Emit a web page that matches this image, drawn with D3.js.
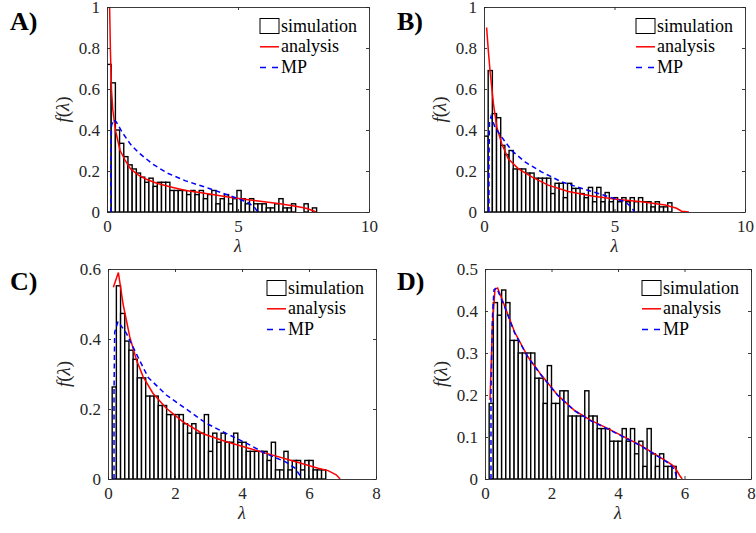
<!DOCTYPE html>
<html>
<head>
<meta charset="utf-8">
<script src="https://cdn.jsdelivr.net/npm/d3@7"></script>
<style>
body { margin: 0; background: #fff; }
svg { display: block; }
</style>
</head>
<body>
<svg id="fig" width="756" height="533"></svg>
<script>
// histogram heights f(lambda), one value per bin starting at lambda = 0
var binWidthA = 0.16;
var simA = [0.72,0.63,0.40,0.335,0.27,0.23,0.21,0.19,0.17,0.145,0.165,0.125,0.145,0.145,0.145,
            0.105,0.105,0.105,0.105,0.085,0.105,0.085,0.105,0.065,0.085,0.105,0.04,0.065,0.085,0.04,
            0.065,0.105,0.065,0.04,0.065,0.04,0.04,0.04,0.02,0.02,0.04,0.065,0.02,0.02,0.04,
            0,0,0.04,0,0.02];
var anaA = [[0.08,1.3],[0.1,1.0],[0.13,0.79],[0.17,0.6],[0.22,0.5],[0.32,0.4],[0.5,0.3],[0.7,0.25],
            [0.9,0.21],[1.2,0.18],[1.5,0.16],[1.9,0.14],[2.4,0.123],[3.0,0.105],[3.6,0.094],[4.2,0.082],
            [4.8,0.07],[5.4,0.06],[6.0,0.05],[6.6,0.04],[7.2,0.028],[7.6,0.018],[7.9,0.005],[7.95,0]];
var mpA = [[0.15,0],[0.15,0.25],[0.17,0.42],[0.24,0.45],[0.35,0.44],[0.6,0.385],[0.9,0.33],[1.2,0.29],
           [1.75,0.233],[2.3,0.19],[3.0,0.152],[3.9,0.115],[4.5,0.088],[5.0,0.065],[5.4,0.045],
           [5.65,0.02],[5.75,0]];

var binWidthB = 0.16;
var simB = [0.37,0.69,0.48,0.46,0.325,0.28,0.30,0.21,0.21,0.21,0.19,0.19,0.165,0.165,0.165,0.165,
            0.09,0.14,0.14,0.07,0.14,0.115,0.115,0.09,0.07,0.12,0.05,0.12,0.05,0.095,0.05,0.07,
            0.05,0.07,0.05,0.07,0.05,0.07,0.05,0.05,0.025,0.05,0.025,0.025,0.045];
var anaB = [[0.1,0.9],[0.17,0.78],[0.23,0.69],[0.36,0.53],[0.49,0.415],[0.68,0.333],[0.93,0.26],
            [1.31,0.212],[1.83,0.171],[2.46,0.131],[3.23,0.1],[4.13,0.078],[5.15,0.061],[6.04,0.05],
            [6.94,0.034],[7.38,0.018],[7.57,0.004],[7.85,0]];
var mpB = [[0.19,0],[0.19,0.25],[0.21,0.44],[0.27,0.466],[0.42,0.414],[0.68,0.365],[1.06,0.30],
           [1.57,0.244],[2.2,0.196],[2.97,0.147],[3.87,0.11],[4.76,0.075],[5.4,0.05],[5.65,0.025],[5.76,0]];

var binWidthC = 0.125;
var simC = [0,0.263,0.552,0.473,0.394,0.368,0.342,0.289,0.289,0.237,0.237,0.237,0.21,0.21,0.184,
            0.184,0.184,0.184,0.158,0.131,0.158,0.131,0.131,0.184,0.079,0.131,0.105,0.131,0.105,0.105,
            0.131,0.105,0.105,0.079,0.079,0.079,0.079,0.079,0.053,0.105,0.026,0.026,0.079,0.026,0.053,
            0.053,0.026,0.053,0.053,0.026,0.026,0.026];
var anaC = [[0.16,0.548],[0.31,0.59],[0.45,0.5],[0.65,0.406],[0.85,0.34],[1.05,0.292],[1.34,0.245],
            [1.74,0.202],[2.23,0.164],[2.82,0.13],[3.51,0.107],[4.2,0.088],[4.89,0.069],[5.58,0.05],
            [6.27,0.031],[6.57,0.024],[6.81,0.012],[6.93,0]];
var mpC = [[0.18,0],[0.18,0.25],[0.2,0.42],[0.3,0.45],[0.55,0.416],[0.85,0.357],[1.2,0.29],[1.74,0.24],
           [2.23,0.207],[2.92,0.16],[3.51,0.131],[4.1,0.104],[4.7,0.073],[5.3,0.049],[5.58,0.031],
           [5.72,0.012],[5.76,0]];

var binWidthD = 0.125;
var simD = [0,0.18,0.42,0.39,0.45,0.42,0.33,0.33,0.30,0.30,0.30,0.30,0.24,0.24,0.18,0.27,0.18,0.18,
            0.21,0.21,0.15,0.15,0.15,0.15,0.21,0.15,0.15,0.12,0.12,0.12,0.09,0.09,0.09,0.12,0.09,0.12,
            0.06,0.09,0.03,0.12,0.06,0.03,0.06,0.03,0.03,0.03];
var anaD = [[0.15,0.188],[0.22,0.36],[0.3,0.452],[0.38,0.455],[0.6,0.41],[0.89,0.35],[1.29,0.291],
            [1.69,0.248],[2.18,0.2],[2.68,0.164],[3.17,0.14],[3.67,0.121],[4.17,0.101],[4.66,0.081],
            [5.16,0.057],[5.56,0.037],[5.7,0.029],[5.85,0.009],[5.93,0]];
var mpD = [[0.18,0],[0.18,0.2],[0.22,0.38],[0.27,0.45],[0.35,0.455],[0.6,0.408],[0.89,0.348],[1.29,0.29],
           [1.69,0.247],[2.18,0.2],[2.68,0.163],[3.17,0.139],[3.67,0.12],[4.17,0.1],[4.66,0.08],
           [5.16,0.056],[5.56,0.036],[5.7,0.022],[5.78,0]];

var legendLabels = ["simulation", "analysis", "MP"];

var panels = [
  {tag:"A)", tx:10, ty:30, left:107, right:369, top:7, bottom:212, xMax:10, xTicks:[0,5,10],
   yMax:1, yTicks:[0,0.2,0.4,0.6,0.8,1], bw:binWidthA, sim:simA, ana:anaA, mp:mpA},
  {tag:"B)", tx:397, ty:30, left:484, right:745, top:7, bottom:212, xMax:10, xTicks:[0,5,10],
   yMax:1, yTicks:[0,0.2,0.4,0.6,0.8,1], bw:binWidthB, sim:simB, ana:anaB, mp:mpB},
  {tag:"C)", tx:10, ty:290, left:108, right:376, top:269, bottom:479, xMax:8, xTicks:[0,2,4,6,8],
   yMax:0.6, yTicks:[0,0.2,0.4,0.6], bw:binWidthC, sim:simC, ana:anaC, mp:mpC},
  {tag:"D)", tx:397, ty:290, left:485, right:751, top:269, bottom:479, xMax:8, xTicks:[0,2,4,6,8],
   yMax:0.5, yTicks:[0,0.1,0.2,0.3,0.4,0.5], bw:binWidthD, sim:simD, ana:anaD, mp:mpD}
];

var SERIF = "'Liberation Serif', 'Times New Roman', Times, 'DejaVu Serif', serif";

var svg = d3.select("#fig").style("font-family", SERIF);
var defs = svg.append("defs");
var fmt = d3.format("~g");

panels.forEach(function(p, k) {
  var x = d3.scaleLinear().domain([0, p.xMax]).range([p.left, p.right]);
  var y = d3.scaleLinear().domain([0, p.yMax]).range([p.bottom, p.top]);
  var g = svg.append("g").attr("class", "panel");

  defs.append("clipPath").attr("id", "clip" + k)
    .append("rect")
    .attr("x", p.left).attr("y", p.top)
    .attr("width", p.right - p.left).attr("height", p.bottom - p.top);

  var plot = g.append("g").attr("clip-path", "url(#clip" + k + ")");

  var bins = p.sim.map(function(v, i) { return {x0: i * p.bw, x1: (i + 1) * p.bw, v: v}; })
    .filter(function(d) { return d.v > 0; });

  plot.selectAll("rect.bar")
    .data(bins)
    .enter().append("rect")
    .attr("class", "bar")
    .attr("x", function(d) { return x(d.x0); })
    .attr("width", function(d) { return x(d.x1) - x(d.x0); })
    .attr("y", function(d) { return y(d.v); })
    .attr("height", function(d) { return y(0) - y(d.v); })
    .attr("fill", "#fff")
    .attr("stroke", "#000")
    .attr("stroke-width", 1.4);

  var line = d3.line()
    .x(function(d) { return x(d[0]); })
    .y(function(d) { return y(d[1]); });

  plot.append("path").datum(p.ana)
    .attr("d", line)
    .attr("fill", "none")
    .attr("stroke", "#ff0000")
    .attr("stroke-width", 1.5);

  plot.append("path").datum(p.mp)
    .attr("d", line)
    .attr("fill", "none")
    .attr("stroke", "#0000ff")
    .attr("stroke-width", 1.5)
    .attr("stroke-dasharray", "5,3.5");

  // axes, MATLAB box style: ticks inside on all four sides
  var axB = g.append("g").attr("transform", "translate(0," + p.bottom + ")")
    .call(d3.axisBottom(x).tickValues(p.xTicks).tickFormat(fmt).tickSize(-3).tickSizeOuter(0).tickPadding(8));
  var axL = g.append("g").attr("transform", "translate(" + p.left + ",0)")
    .call(d3.axisLeft(y).tickValues(p.yTicks).tickFormat(fmt).tickSize(-3).tickSizeOuter(0).tickPadding(7));
  var axT = g.append("g").attr("transform", "translate(0," + p.top + ")")
    .call(d3.axisTop(x).tickValues(p.xTicks).tickFormat("").tickSize(-3).tickSizeOuter(0));
  var axR = g.append("g").attr("transform", "translate(" + p.right + ",0)")
    .call(d3.axisRight(y).tickValues(p.yTicks).tickFormat("").tickSize(-3).tickSizeOuter(0));

  [axB, axL, axT, axR].forEach(function(a) {
    a.attr("color", "#262626")
     .attr("font-family", null)
     .attr("font-size", null);
    a.selectAll("text").style("font-family", SERIF).style("font-size", "17px");
    a.selectAll("line, path").attr("stroke-width", 0.9);
  });

  // axis titles
  g.append("text")
    .attr("x", (p.left + p.right) / 2)
    .attr("y", p.bottom + 40)
    .attr("text-anchor", "middle")
    .style("font-family", SERIF)
    .style("font-size", "18px")
    .style("font-style", "italic")
    .attr("fill", "#262626")
    .text("\u03bb");

  var yt = g.append("text")
    .attr("transform", "translate(" + (p.left - 38) + "," + ((p.top + p.bottom) / 2) + ") rotate(-90)")
    .attr("text-anchor", "middle")
    .style("font-family", SERIF)
    .style("font-size", "19px")
    .attr("fill", "#262626");
  yt.append("tspan").style("font-style", "italic").text("f");
  yt.append("tspan").text("(");
  yt.append("tspan").style("font-style", "italic").text("\u03bb");
  yt.append("tspan").text(")");

  // panel tag
  g.append("text")
    .attr("x", p.tx).attr("y", p.ty)
    .style("font-family", SERIF)
    .style("font-size", "26px")
    .style("font-weight", "bold")
    .attr("fill", "#000")
    .text(p.tag);

  // legend
  var lx = p.right - 109, ly = p.top + 19, step = 20.8;
  var leg = g.append("g").attr("class", "legend");
  leg.append("rect")
    .attr("x", lx).attr("y", ly - 7.5)
    .attr("width", 19).attr("height", 15)
    .attr("fill", "#fff").attr("stroke", "#000").attr("stroke-width", 1);
  leg.append("line")
    .attr("x1", lx).attr("x2", lx + 19)
    .attr("y1", ly + step).attr("y2", ly + step)
    .attr("stroke", "#ff0000").attr("stroke-width", 1.5);
  leg.append("line")
    .attr("x1", lx).attr("x2", lx + 19)
    .attr("y1", ly + 2 * step).attr("y2", ly + 2 * step)
    .attr("stroke", "#0000ff").attr("stroke-width", 1.5)
    .attr("stroke-dasharray", "6,6");
  leg.selectAll("text")
    .data(legendLabels)
    .enter().append("text")
    .attr("x", lx + 21)
    .attr("y", function(d, i) { return ly + i * step + 5.5; })
    .style("font-family", SERIF)
    .style("font-size", "18px")
    .attr("fill", "#000")
    .text(function(d) { return d; });
});
</script>
</body>
</html>
